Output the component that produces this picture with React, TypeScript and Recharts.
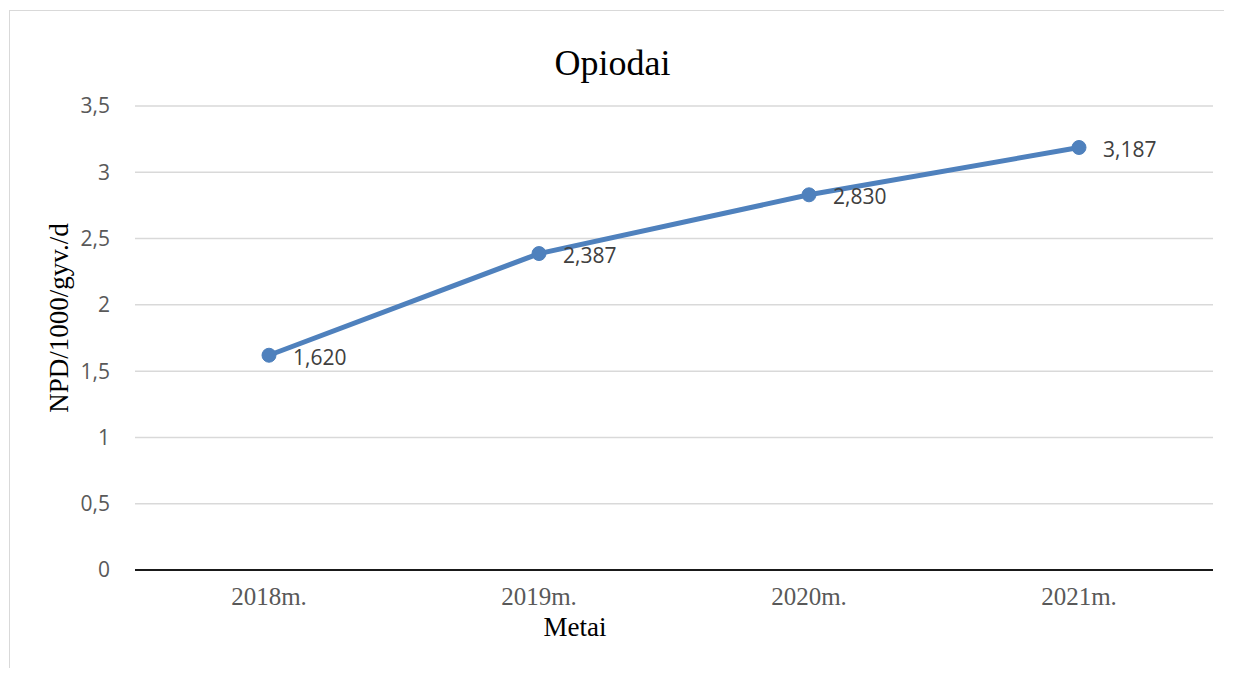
import { LineChart, Line, XAxis, YAxis, CartesianGrid, LabelList } from "recharts";

const years = ["2018m.", "2019m.", "2020m.", "2021m."];
const opioidValues = [1.62, 2.387, 2.83, 3.187];
const yTicks = [0, 0.5, 1, 1.5, 2, 2.5, 3, 3.5];

const data = years.map((year, i) => ({ year, value: opioidValues[i] }));

const LINE_COLOR = "#4f81bd";
const SERIF = "'Liberation Serif', serif";
const SANS = "'Open Sans', sans-serif";
const comma = (v: number, digits?: number) =>
  (digits != null ? v.toFixed(digits) : String(v)).replace(".", ",");

export default function App() {
  return (
    <div style={{ position: "relative", width: 1219, height: 660 }}>
      <div
        style={{
          position: "absolute",
          left: 1,
          top: 2,
          width: 1215,
          height: 665,
          borderLeft: "1px solid #d9d9d9",
          borderTop: "1px solid #d9d9d9",
          boxSizing: "border-box",
        }}
      />
      <div
        style={{
          position: "absolute",
          left: 0,
          width: 1209,
          top: 34,
          textAlign: "center",
          fontFamily: SERIF,
          fontSize: 36,
          color: "#000",
        }}
      >
        Opiodai
      </div>
      <LineChart
        width={1219}
        height={660}
        data={data}
        margin={{ top: 98, right: 14, left: 0, bottom: 36 }}
      >
        <CartesianGrid stroke="#d9d9d9" strokeWidth={1.5} vertical={false} />
        <XAxis
          dataKey="year"
          padding={{ left: 134, right: 134 }}
          axisLine={{ stroke: "#1a1a1a", strokeWidth: 2 }}
          tickLine={false}
          tickSize={0}
          tickMargin={17}
          height={62}
          fontSize={25}
          fontFamily={SERIF}
          tick={{ fontSize: 25, fill: "#595959", fontFamily: SERIF }}
          label={{
            value: "Metai",
            position: "insideBottom",
            offset: -4,
            dx: -99,
            fontSize: 27,
            fill: "#000",
            fontFamily: SERIF,
            style: { fontSize: 27, fill: "#000", fontFamily: SERIF },
          }}
        />
        <YAxis
          domain={[0, 3.5]}
          ticks={yTicks}
          width={127}
          axisLine={false}
          tickLine={false}
          tickSize={0}
          tickMargin={25}
          fontSize={21}
          fontFamily={SANS}
          tickFormatter={(v: number) => comma(v)}
          tick={{ fontSize: 21, fill: "#595959", fontFamily: SANS }}
          label={{
            value: "NPD/1000/gyv./d",
            angle: -90,
            position: "insideLeft",
            offset: 50,
            dy: -20,
            fontSize: 27,
            fill: "#000",
            fontFamily: SERIF,
            style: { fontSize: 27, fill: "#000", fontFamily: SERIF, textAnchor: "middle" },
          }}
        />
        <Line
          dataKey="value"
          stroke={LINE_COLOR}
          strokeWidth={5}
          dot={{ r: 7, fill: LINE_COLOR, stroke: LINE_COLOR, strokeWidth: 1 }}
          isAnimationActive={false}
        >
          <LabelList
            dataKey="value"
            position="right"
            offset={24}
            dy={2}
            fontSize={21}
            fill="#404040"
            fontFamily={SANS}
            formatter={(v: any) => comma(Number(v), 3)}
            style={{ fontSize: 21, fill: "#404040", fontFamily: SANS }}
          />
        </Line>
      </LineChart>
    </div>
  );
}
